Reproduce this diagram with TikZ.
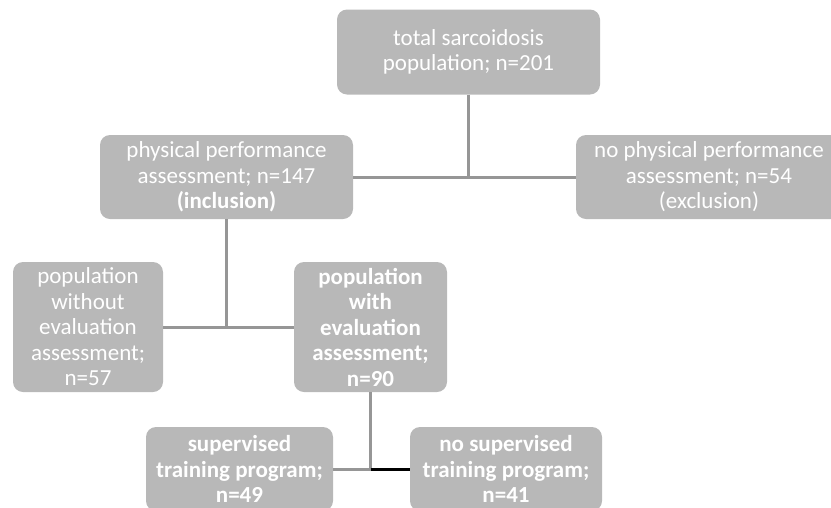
\documentclass[tikz,border=0pt]{standalone}
\usepackage{fontspec}
\setmainfont{Carlito}
\usepackage{xcolor}
\definecolor{boxgray}{RGB}{184,184,184}
\definecolor{linegray}{RGB}{150,150,150}

\begin{document}
\begin{tikzpicture}[x=1pt, y=-1pt,
    flowbox/.style={fill=boxgray, rounded corners=10pt, text=white, align=center,
        inner sep=0pt, font=\fontsize{23}{25.5}\selectfont},
    boldbox/.style={flowbox, font=\fontsize{23}{25.5}\selectfont\bfseries},
    link/.style={draw=linegray, line width=3pt}]
    \clip (0,0) rectangle (831,507);
    \useasboundingbox (0,0) rectangle (831,507);

    \node[flowbox, minimum width=263pt, minimum height=85pt] (total) at (468.5,52)
        {total sarcoidosis\\population; n=201};
    \node[flowbox, minimum width=253pt, minimum height=84pt] (phys) at (226.5,177)
        {physical performance\\assessment; n=147\\\textbf{(inclusion)}};
    \node[flowbox, minimum width=266pt, minimum height=84pt] (nophys) at (709,177)
        {no physical performance\\assessment; n=54\\(exclusion)};
    \node[flowbox, minimum width=150pt, minimum height=130pt] (without) at (88,327)
        {population\\without\\evaluation\\assessment;\\n=57};
    \node[boldbox, minimum width=153pt, minimum height=130pt] (with) at (370.5,327)
        {population\\with\\evaluation\\assessment;\\n=90};
    \node[boldbox, minimum width=187pt, minimum height=84pt] (sup) at (239.5,469)
        {supervised\\training program;\\n=49};
    \node[boldbox, minimum width=192pt, minimum height=84pt] (nosup) at (506,469)
        {no supervised\\training program;\\n=41};

    % connectors
    \draw[link] (total.south) -- (total.south |- phys.east);
    \draw[link] (phys.east) -- (nophys.west);
    \draw[link] (phys.south) -- (phys.south |- without.east);
    \draw[link] (without.east) -- (with.west);
    \coordinate (split) at (with.south |- sup.east);
    \draw[link] (with.south) -- (split);
    \draw[link] (sup.east) -- (split);
    \draw[line width=3pt, black] (split) -- (nosup.west);
\end{tikzpicture}
\end{document}
